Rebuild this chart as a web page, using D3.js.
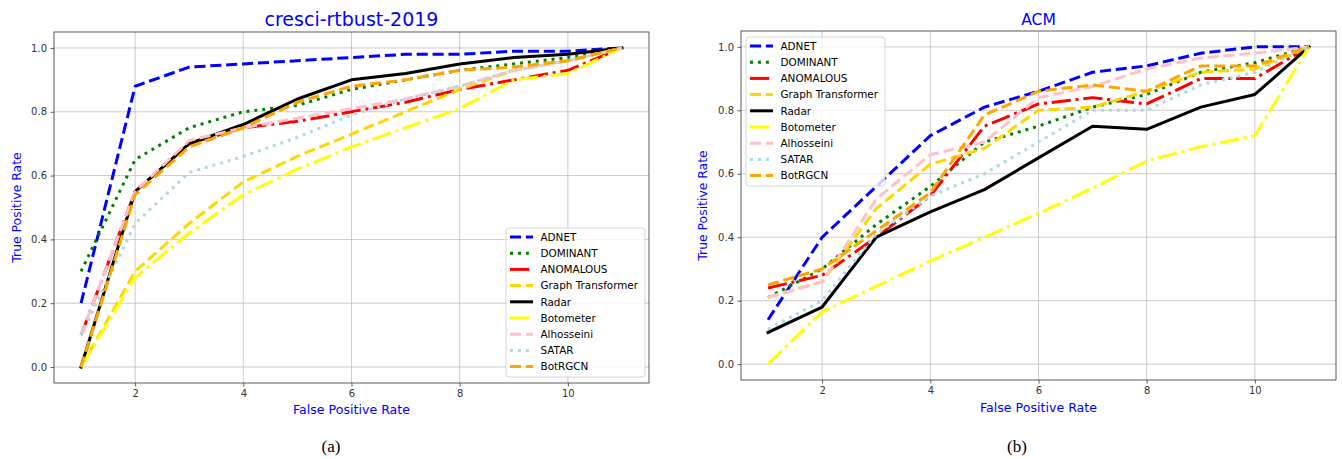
<!DOCTYPE html>
<html><head><meta charset="utf-8">
<script src="https://cdn.jsdelivr.net/npm/d3@7/dist/d3.min.js"></script>
<style>body{margin:0;background:#fff}svg{display:block}</style>
</head><body><svg id="c" width="1342" height="459"></svg>
<script>
const fpr = [1,2,3,4,5,6,7,8,9,10,11];
const methods = ["ADNET","DOMINANT","ANOMALOUS","Graph Transformer","Radar","Botometer","Alhosseini","SATAR","BotRGCN"];
const colors = ["blue","green","red","gold","black","yellow","pink","lightblue","orange"];
const styles = ["dashed","dotted","dashdot","dashed","solid","dashdot","dashed","dotted","dashed"];
const xTicks = [2,4,6,8,10];
const yTicks = [0,0.2,0.4,0.6,0.8,1.0];

// cresci-rtbust-2019
const rtADNET      = [0.20,0.88,0.94,0.95,0.96,0.97,0.98,0.98,0.99,0.99,1.0];
const rtDOMINANT   = [0.30,0.65,0.75,0.80,0.82,0.87,0.90,0.93,0.95,0.97,1.0];
const rtANOMALOUS  = [0.10,0.55,0.70,0.75,0.77,0.80,0.83,0.87,0.90,0.93,1.0];
const rtGraphTrans = [0.00,0.30,0.45,0.58,0.66,0.73,0.80,0.87,0.93,0.96,1.0];
const rtRadar      = [0.00,0.55,0.70,0.76,0.84,0.90,0.92,0.95,0.97,0.98,1.0];
const rtBotometer  = [0.00,0.28,0.42,0.54,0.62,0.69,0.75,0.81,0.90,0.92,1.0];
const rtAlhosseini = [0.10,0.55,0.71,0.75,0.78,0.81,0.84,0.88,0.93,0.96,1.0];
const rtSATAR      = [0.10,0.45,0.61,0.66,0.72,0.79,0.84,0.88,0.93,0.96,1.0];
const rtBotRGCN    = [0.00,0.54,0.69,0.75,0.83,0.88,0.90,0.93,0.94,0.96,1.0];

// ACM
const acADNET      = [0.14,0.40,0.56,0.72,0.81,0.86,0.92,0.94,0.98,1.00,1.0];
const acDOMINANT   = [0.21,0.30,0.44,0.56,0.70,0.75,0.81,0.85,0.92,0.95,1.0];
const acANOMALOUS  = [0.24,0.28,0.40,0.53,0.75,0.82,0.84,0.82,0.90,0.90,1.0];
const acGraphTrans = [0.21,0.26,0.49,0.63,0.68,0.80,0.81,0.86,0.92,0.93,1.0];
const acRadar      = [0.10,0.18,0.40,0.48,0.55,0.65,0.75,0.74,0.81,0.85,1.0];
const acBotometer  = [0.00,0.165,0.245,0.325,0.40,0.475,0.555,0.64,0.685,0.72,1.0];
const acAlhosseini = [0.21,0.26,0.52,0.66,0.70,0.84,0.875,0.93,0.965,0.98,1.0];
const acSATAR      = [0.11,0.20,0.41,0.53,0.60,0.70,0.80,0.80,0.88,0.92,1.0];
const acBotRGCN    = [0.25,0.30,0.42,0.54,0.785,0.86,0.88,0.86,0.94,0.94,1.0];

const rtSeries = [rtADNET,rtDOMINANT,rtANOMALOUS,rtGraphTrans,rtRadar,rtBotometer,rtAlhosseini,rtSATAR,rtBotRGCN];
const acSeries = [acADNET,acDOMINANT,acANOMALOUS,acGraphTrans,acRadar,acBotometer,acAlhosseini,acSATAR,acBotRGCN];

const lw = 3;
const dashes = {solid:null, dashed:[3.7*lw,1.6*lw], dotted:[1*lw,1.65*lw], dashdot:[6.4*lw,1.6*lw,1*lw,1.6*lw]};
const FONT = "'DejaVu Sans', sans-serif";
const svg = d3.select("#c");

function panel(o){
  const g = svg.append("g");
  const x = d3.scaleLinear().domain([0.5,11.5]).range([o.left,o.right]);
  const y = d3.scaleLinear().domain([-0.05,1.05]).range([o.bottom,o.top]);
  // grid
  g.append("g").selectAll("line").data(xTicks).join("line")
    .attr("x1",d=>x(d)).attr("x2",d=>x(d)).attr("y1",o.top).attr("y2",o.bottom)
    .attr("stroke","#b0b0b0").attr("stroke-width",0.8).attr("opacity",0.8);
  g.append("g").selectAll("line").data(yTicks).join("line")
    .attr("y1",d=>y(d)).attr("y2",d=>y(d)).attr("x1",o.left).attr("x2",o.right)
    .attr("stroke","#b0b0b0").attr("stroke-width",0.8).attr("opacity",0.8);
  // axes
  const xa = g.append("g").attr("transform",`translate(0,${o.bottom})`)
    .call(d3.axisBottom(x).tickValues(xTicks).tickFormat(d3.format("d")).tickSize(3.5).tickPadding(3.5));
  const ya = g.append("g").attr("transform",`translate(${o.left},0)`)
    .call(d3.axisLeft(y).tickValues(yTicks).tickFormat(d3.format(".1f")).tickSize(3.5).tickPadding(3.5));
  [xa,ya].forEach(a=>{
    a.select(".domain").remove();
    a.selectAll("text").attr("font-family",FONT).attr("font-size",10).attr("fill","#333");
    a.selectAll("line").attr("stroke","#333").attr("stroke-width",0.8);
  });
  // lines
  const clipId = "clip"+o.id;
  svg.append("clipPath").attr("id",clipId).append("rect")
    .attr("x",o.left).attr("y",o.top).attr("width",o.right-o.left).attr("height",o.bottom-o.top);
  const line = d3.line().x((d,i)=>x(fpr[i])).y(d=>y(d));
  const lg = g.append("g").attr("clip-path",`url(#${clipId})`);
  o.series.forEach((s,k)=>{
    lg.append("path").datum(s).attr("d",line).attr("fill","none")
      .attr("stroke",colors[k]).attr("stroke-width",lw)
      .attr("stroke-linejoin","round")
      .attr("stroke-linecap", styles[k]==="solid" ? "square" : "butt")
      .attr("stroke-dasharray", dashes[styles[k]] ? dashes[styles[k]].join(",") : null);
  });
  // frame
  g.append("rect").attr("x",o.left).attr("y",o.top).attr("width",o.right-o.left).attr("height",o.bottom-o.top)
    .attr("fill","none").attr("stroke","#333").attr("stroke-width",0.8);
  // title & labels
  const cx = (o.left+o.right)/2;
  g.append("text").attr("x",cx).attr("y",o.top-6).attr("text-anchor","middle")
    .attr("font-family",FONT).attr("font-size",o.titleSize).attr("fill","blue").text(o.title);
  g.append("text").attr("x",cx).attr("y",o.xlabY).attr("text-anchor","middle")
    .attr("font-family",FONT).attr("font-size",12.6).attr("fill","blue").text("False Positive Rate");
  g.append("text").attr("transform",`translate(${o.ylabX},${(o.top+o.bottom)/2}) rotate(-90)`).attr("text-anchor","middle")
    .attr("font-family",FONT).attr("font-size",12.4).attr("fill","blue").text("True Positive Rate");
  g.append("text").attr("x",o.capX).attr("y",452).attr("text-anchor","middle")
    .attr("font-family","'Liberation Serif', serif").attr("font-size",17).attr("fill","#000").text(o.cap);
  // legend
  const L = g.append("g").attr("transform",`translate(${o.legX},${o.legY})`);
  L.append("rect").attr("x",0).attr("y",0).attr("width",139).attr("height",149).attr("rx",3)
    .attr("fill","#fff").attr("fill-opacity",0.8).attr("stroke","#ccc").attr("stroke-width",0.8);
  methods.forEach((m,k)=>{
    const yy = 9 + k*16.2;
    L.append("line").attr("x1",4).attr("x2",27).attr("y1",yy).attr("y2",yy)
      .attr("stroke",colors[k]).attr("stroke-width",lw)
      .attr("stroke-dasharray", dashes[styles[k]] ? dashes[styles[k]].join(",") : null);
    L.append("text").attr("x",34.5).attr("y",yy+3.8).attr("font-family",FONT).attr("font-size",10.4)
      .attr("fill","#000").text(m);
  });
}

panel({id:"a",left:54,right:649,top:32,bottom:383,series:rtSeries,title:"cresci-rtbust-2019",titleSize:19,
  xlabY:414,ylabX:21,cap:"(a)",capX:331,legX:506,legY:228});
panel({id:"b",left:741,right:1336,top:31,bottom:380,series:acSeries,title:"ACM",titleSize:15.6,
  xlabY:412,ylabX:707,cap:"(b)",capX:1017,legX:746,legY:37});
</script></body></html>
